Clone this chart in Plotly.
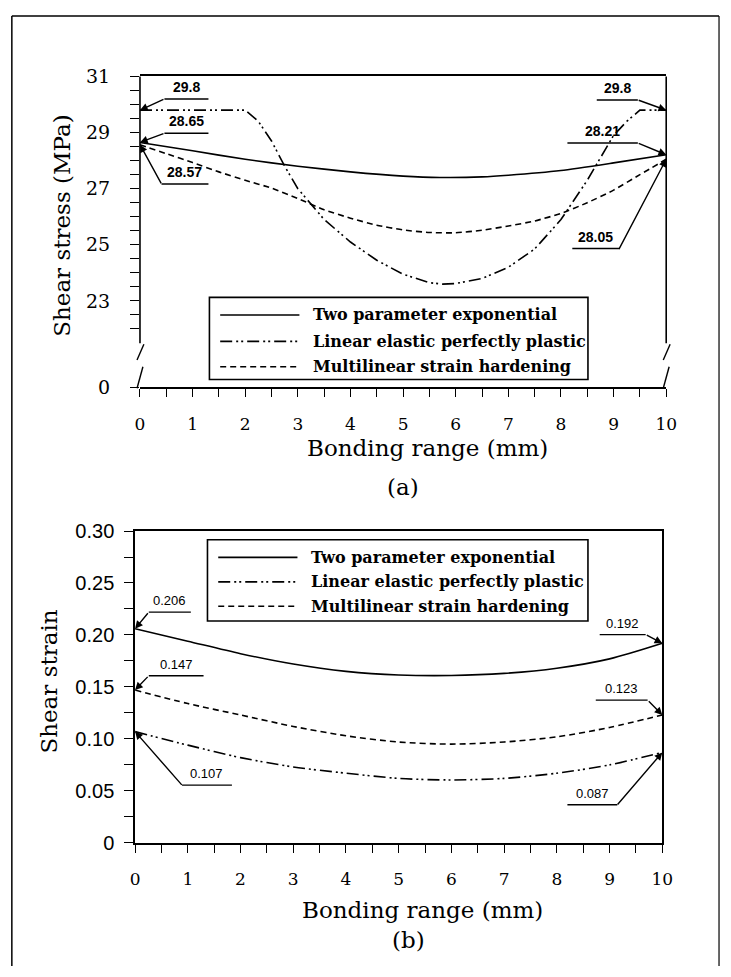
import plotly.graph_objects as go

# ---------------- data ----------------
# (a) shear stress (MPa) vs bonding range (mm)
x_tpe_a = [0, 1, 2, 3, 4, 5, 5.7, 6.5, 7, 8, 9, 10]
y_tpe_a = [28.65, 28.35, 28.05, 27.8, 27.6, 27.45, 27.4, 27.42, 27.48, 27.65, 27.92, 28.21]

x_lepp_a = [0, 0.5, 1, 1.5, 2.0, 2.25, 2.5, 2.75, 3.0, 3.5, 4.0, 4.5, 5.0, 5.5, 5.75, 6.0,
            6.5, 7.0, 7.5, 8.0, 8.5, 9.0, 9.25, 9.5, 10]
y_lepp_a = [29.8, 29.8, 29.8, 29.8, 29.8, 29.4, 28.7, 27.8, 27.0, 25.9, 25.1, 24.45, 23.95,
            23.65, 23.6, 23.62, 23.8, 24.2, 24.85, 25.9, 27.3, 28.9, 29.4, 29.8, 29.8]

x_msh_a = [0, 0.5, 1, 1.5, 2, 2.5, 3, 3.5, 4, 4.5, 5, 5.5, 6, 6.5, 7, 7.5, 8, 8.5, 9, 9.5, 10]
y_msh_a = [28.57, 28.25, 27.93, 27.6, 27.3, 27.02, 26.65, 26.25, 25.95, 25.7, 25.53, 25.44,
           25.43, 25.52, 25.67, 25.85, 26.12, 26.5, 26.95, 27.5, 28.05]

# (b) shear strain vs bonding range (mm)
x_b = [0, 1, 2, 3, 4, 5, 6, 7, 8, 9, 10]
y_tpe_b = [0.206, 0.194, 0.182, 0.172, 0.165, 0.1615, 0.161, 0.163, 0.168, 0.177, 0.192]
y_lepp_b = [0.107, 0.094, 0.082, 0.073, 0.067, 0.062, 0.0605, 0.062, 0.067, 0.075, 0.087]
y_msh_b = [0.147, 0.134, 0.123, 0.112, 0.103, 0.097, 0.095, 0.097, 0.102, 0.111, 0.123]

series_names = ["Two parameter exponential", "Linear elastic perfectly plastic",
                "Multilinear strain hardening"]

x_ticks = list(range(0, 11))
ya_ticks = [23, 25, 27, 29, 31]
yb_ticks = [0, 0.05, 0.10, 0.15, 0.20, 0.25, 0.30]
yb_ticktext = ["0", "0.05", "0.10", "0.15", "0.20", "0.25", "0.30"]

# ---------------- layout geometry ----------------
W, H = 731, 977
A_L, A_R, A_T, A_B = 138, 676, 67, 385
B_L, B_R, B_T, B_B = 133, 672, 532, 851
YA_TOP = 31
PX_PER_MPA = 28.7
YA_BOT = YA_TOP - (A_B - A_T) / PX_PER_MPA   # broken-axis position labelled "0"


def px(x):
    return x / W


def py(y):
    return 1 - y / H


DASH = {"solid": "solid", "lepp": "12px,4px,2px,3px,2px,4px", "msh": "6px,4px"}
styles = ["solid", "lepp", "msh"]
LW = 1.6

fig = go.Figure()

# panel (a)
for xs, ys, st, nm, shp in [(x_tpe_a, y_tpe_a, "solid", series_names[0], "spline"),
                            (x_lepp_a, y_lepp_a, "lepp", series_names[1], "linear"),
                            (x_msh_a, y_msh_a, "msh", series_names[2], "spline")]:
    fig.add_trace(go.Scatter(x=xs, y=ys, mode="lines", name=nm, xaxis="x", yaxis="y",
                             line=dict(color="black", width=LW, dash=DASH[st],
                                       shape=shp, smoothing=0.6 if shp == "spline" else None),
                             showlegend=False))
# panel (b)
for ys, st, nm in [(y_tpe_b, "solid", series_names[0]),
                   (y_lepp_b, "lepp", series_names[1]),
                   (y_msh_b, "msh", series_names[2])]:
    fig.add_trace(go.Scatter(x=x_b, y=ys, mode="lines", name=nm, xaxis="x2", yaxis="y2",
                             line=dict(color="black", width=LW, dash=DASH[st],
                                       shape="spline", smoothing=0.8),
                             showlegend=False))

tickfont_x = dict(family="DejaVu Serif", size=17, color="black")

fig.update_layout(
    width=W, height=H, margin=dict(l=0, r=0, t=0, b=0),
    paper_bgcolor="white", plot_bgcolor="white",
    showlegend=False,
    xaxis=dict(domain=[px(A_L), px(A_R)], range=[0, 10], anchor="y",
               tickvals=x_ticks, ticks="outside", ticklen=8, tickwidth=1.3,
               tickcolor="black", ticklabelstandoff=12,
               minor=dict(dtick=0.5, tick0=0, ticks="outside", ticklen=8,
                          tickwidth=1.3, tickcolor="black"),
               showline=True, mirror=True, linecolor="black", linewidth=1.6,
               showgrid=False, zeroline=False, tickfont=tickfont_x),
    yaxis=dict(domain=[py(A_B), py(A_T)], range=[YA_BOT, YA_TOP], anchor="x",
               tickvals=[YA_BOT] + ya_ticks, ticktext=["0"] + [str(v) for v in ya_ticks],
               ticks="outside", ticklen=9, tickwidth=1.3, tickcolor="black",
               ticklabelstandoff=16,
               minor=dict(tickvals=[v / 2 for v in range(44, 62)], ticks="outside",
                          ticklen=9, tickwidth=1.3, tickcolor="black"),
               showline=False, showgrid=False, zeroline=False,
               tickfont=dict(family="DejaVu Serif", size=19, color="black")),
    xaxis2=dict(domain=[px(B_L), px(B_R)], range=[0, 10], anchor="y2",
                tickvals=x_ticks, ticks="outside", ticklen=8, tickwidth=1.3,
                tickcolor="black", ticklabelstandoff=12,
                minor=dict(dtick=0.5, tick0=0, ticks="outside", ticklen=8,
                           tickwidth=1.3, tickcolor="black"),
                showline=True, mirror=True, linecolor="black", linewidth=1.6,
                showgrid=False, zeroline=False, tickfont=tickfont_x),
    yaxis2=dict(domain=[py(B_B), py(B_T)], range=[0, 0.30], anchor="x2",
                tickvals=yb_ticks, ticktext=yb_ticktext,
                ticks="outside", ticklen=9, tickwidth=1.3, tickcolor="black",
                ticklabelstandoff=6,
                minor=dict(dtick=0.025, tick0=0, ticks="outside", ticklen=9,
                           tickwidth=1.3, tickcolor="black"),
                showline=True, mirror=True, linecolor="black", linewidth=1.6,
                showgrid=False, zeroline=False,
                tickfont=dict(family="Liberation Sans", size=20, color="black")),
)

shapes = []
annots = []


def pline(x0, y0, x1, y1, w=1.4, dash="solid"):
    shapes.append(dict(type="line", xref="paper", yref="paper",
                       x0=px(x0), y0=py(y0), x1=px(x1), y1=py(y1),
                       line=dict(color="black", width=w, dash=dash)))


# outer frame
pline(7, 5, 730, 5, 1.5)
pline(7, 5, 7, 977, 1.5)
pline(730, 5, 730, 977, 1.2)

# broken left/right spines for panel (a)
for xs in (A_L, A_R):
    pline(xs, A_T, xs, 340, 1.6)
    pline(xs - 3, 357, xs + 4, 341, 1.4)
    pline(xs - 3, 386, xs + 3, 364, 1.4)


# legends (drawn inside the plot areas)
def legend_box(left, top, right, bottom, rows):
    shapes.append(dict(type="rect", xref="paper", yref="paper",
                       x0=px(left), y0=py(bottom), x1=px(right), y1=py(top),
                       line=dict(color="black", width=1.6), fillcolor="white"))
    for (ry, st, nm) in rows:
        pline(left + 11, ry, left + 92, ry, 1.6, DASH[st])
        annots.append(dict(xref="paper", yref="paper", x=px(left + 104), y=py(ry),
                           xanchor="left", yanchor="middle", showarrow=False, text=nm,
                           font=dict(family="DejaVu Serif", size=16, color="black",
                                     weight="bold")))


legend_box(209, 293, 596, 377, [(311, styles[0], series_names[0]),
                                (338, styles[1], series_names[1]),
                                (364, styles[2], series_names[2])])
legend_box(207, 541, 596, 624, [(559, styles[0], series_names[0]),
                                (584, styles[1], series_names[1]),
                                (609, styles[2], series_names[2])])


def ya_px(v):
    return A_T + (YA_TOP - v) * PX_PER_MPA


def yb_px(v):
    return B_B - v / 0.30 * (B_B - B_T)


def callout(tx, ty, xr, yr, tip_px, tail, ul, label, fsize, bold):
    # arrow from tail (pixel) to tip (data)
    annots.append(dict(x=tx, y=ty, xref=xr, yref=yr, text="", showarrow=True,
                       ax=tail[0] - tip_px[0], ay=tail[1] - tip_px[1],
                       arrowhead=2, arrowsize=1.1, arrowwidth=1.4, arrowcolor="black",
                       standoff=0))
    pline(ul[0], ul[2], ul[1], ul[2], 1.4)
    annots.append(dict(xref="paper", yref="paper", x=px((ul[0] + ul[1]) / 2),
                       y=py(ul[2] - 2), xanchor="center", yanchor="bottom",
                       showarrow=False, text=label,
                       font=dict(family="Liberation Sans", size=fsize, color="black",
                                 weight="bold" if bold else "normal")))


# panel (a)
a_calls = [
    (x_lepp_a[0], y_lepp_a[0], (163, 90), (163, 208, 90)),
    (x_tpe_a[0], y_tpe_a[0], (163, 125), (163, 208, 125)),
    (x_msh_a[0], y_msh_a[0], (160, 177), (160, 208, 177)),
    (x_lepp_a[-1], y_lepp_a[-1], (647, 91), (605, 647, 91)),
    (x_tpe_a[-1], y_tpe_a[-1], (647, 135), (575, 647, 135)),
    (x_msh_a[-1], y_msh_a[-1], (628, 243), (580, 628, 243)),
]
for tx, ty, tail, ul in a_calls:
    tip = (A_L + tx / 10 * (A_R - A_L), ya_px(ty))
    lab = ("%.2f" % ty).rstrip("0").rstrip(".")
    callout(tx, ty, "x", "y", tip, tail, ul, lab, 14, True)

# panel (b)
b_calls = [
    (x_b[0], y_tpe_b[0], (147, 615), (147, 190, 615)),
    (x_b[-1], y_tpe_b[-1], (655, 638), (608, 655, 638)),
    (x_b[0], y_msh_b[0], (147, 680), (147, 203, 680)),
    (x_b[0], y_lepp_b[0], (181, 792), (181, 232, 792)),
    (x_b[-1], y_msh_b[-1], (657, 705), (604, 657, 705)),
    (x_b[-1], y_lepp_b[-1], (626, 812), (575, 626, 812)),
]
for tx, ty, tail, ul in b_calls:
    tip = (B_L + tx / 10 * (B_R - B_L), yb_px(ty))
    callout(tx, ty, "x2", "y2", tip, tail, ul, "%.3f" % ty, 13, False)

# axis titles and panel captions
title_font = dict(family="DejaVu Serif", size=23, color="black")
annots += [
    dict(xref="paper", yref="paper", x=px(432), y=py(447), text="Bonding range (mm)",
         showarrow=False, xanchor="center", yanchor="middle", font=title_font),
    dict(xref="paper", yref="paper", x=px(407), y=py(487), text="(a)",
         showarrow=False, xanchor="center", yanchor="middle", font=title_font),
    dict(xref="paper", yref="paper", x=px(427), y=py(920), text="Bonding range (mm)",
         showarrow=False, xanchor="center", yanchor="middle", font=title_font),
    dict(xref="paper", yref="paper", x=px(413), y=py(950), text="(b)",
         showarrow=False, xanchor="center", yanchor="middle", font=title_font),
    dict(xref="paper", yref="paper", x=px(58), y=py(220), text="Shear stress (MPa)",
         showarrow=False, textangle=-90, xanchor="center", yanchor="middle",
         font=title_font),
    dict(xref="paper", yref="paper", x=px(45), y=py(686), text="Shear strain",
         showarrow=False, textangle=-90, xanchor="center", yanchor="middle",
         font=title_font),
]

fig.update_layout(shapes=shapes, annotations=annots)
fig.write_html("out.html")
